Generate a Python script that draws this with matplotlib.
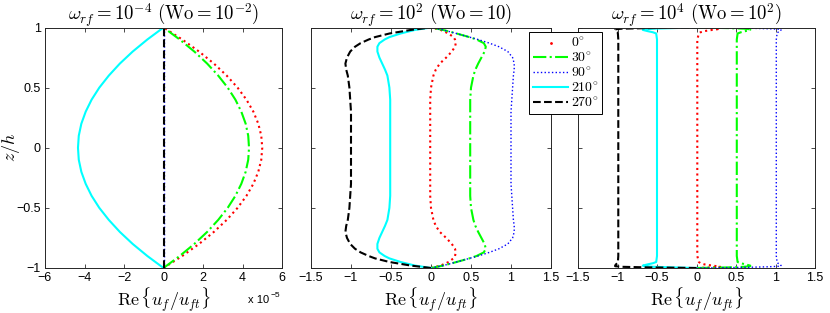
import numpy as np
import matplotlib
matplotlib.use('Agg')
import matplotlib.pyplot as plt
from matplotlib.lines import Line2D

plt.rcParams['mathtext.fontset'] = 'cm'
plt.rcParams['font.family'] = ['Liberation Sans', 'DejaVu Sans']

# phase angles of the curves
phases = ['0', '30', '90', '210', '270']

# --- omega_rf = 1e-4 (values in units of 1e-5), half profile z = 0 .. 1
z_lo = np.array([0.0, 0.1, 0.2, 0.3, 0.4, 0.5, 0.6, 0.7, 0.8, 0.9, 1.0])
u_lo_0 = np.array([5.0, 4.95, 4.8, 4.55, 4.2, 3.75, 3.2, 2.55, 1.8, 0.95, 0.0])
u_lo_30 = np.array([4.33, 4.29, 4.16, 3.94, 3.64, 3.25, 2.77, 2.21, 1.56, 0.82, 0.0])
u_lo_90 = np.array([0.0, 0.0, 0.0, 0.0, 0.0, 0.0, 0.0, 0.0, 0.0, 0.0, 0.0])
u_lo_210 = np.array([-4.33, -4.29, -4.16, -3.94, -3.64, -3.25, -2.77, -2.21, -1.56, -0.82, 0.0])
u_lo_270 = np.array([0.0, 0.0, 0.0, 0.0, 0.0, 0.0, 0.0, 0.0, 0.0, 0.0, 0.0])

# --- omega_rf = 1e2, half profile
z_mid = np.array([0.0, 0.1, 0.2, 0.3, 0.4, 0.5, 0.6, 0.65, 0.7, 0.75, 0.8,
                  0.84, 0.87, 0.9, 0.92, 0.95, 0.98, 1.0])
u_mid_0 = np.array([-0.01, -0.01, -0.01, -0.01, -0.01, 0.0, 0.03, 0.06, 0.11, 0.19, 0.26,
                    0.30, 0.31, 0.30, 0.28, 0.22, 0.12, 0.0])
u_mid_30 = np.array([0.49, 0.49, 0.49, 0.49, 0.49, 0.5, 0.53, 0.555, 0.59, 0.63, 0.67,
                     0.685, 0.66, 0.57, 0.48, 0.32, 0.15, 0.0])
u_mid_90 = np.array([1.0, 1.0, 1.0, 1.0, 1.01, 1.02, 1.03, 1.04, 1.04, 1.02, 0.96,
                     0.85, 0.73, 0.59, 0.48, 0.32, 0.15, 0.0])
u_mid_210 = np.array([-0.51, -0.51, -0.51, -0.51, -0.51, -0.52, -0.545, -0.575, -0.61, -0.645, -0.67,
                      -0.67, -0.645, -0.58, -0.52, -0.38, -0.2, 0.0])
u_mid_270 = np.array([-1.0, -1.0, -1.0, -1.0, -1.01, -1.02, -1.04, -1.06, -1.07, -1.05, -1.01,
                      -0.95, -0.88, -0.78, -0.7, -0.52, -0.25, 0.0])

# --- omega_rf = 1e4, half profile
z_hi = np.array([0.0, 0.5, 0.9, 0.95, 0.96, 0.97, 0.98, 0.985, 0.99, 0.995, 1.0])
u_hi_0 = np.array([0.01, 0.01, 0.01, 0.03, 0.05, 0.1, 0.2, 0.26, 0.3, 0.22, 0.0])
u_hi_30 = np.array([0.51, 0.51, 0.51, 0.52, 0.56, 0.62, 0.68, 0.68, 0.6, 0.4, 0.0])
u_hi_90 = np.array([1.01, 1.01, 1.01, 1.02, 1.03, 1.06, 1.07, 1.07, 0.9, 0.6, 0.0])
u_hi_210 = np.array([-0.5, -0.5, -0.5, -0.51, -0.55, -0.62, -0.68, -0.66, -0.55, -0.3, 0.0])
u_hi_270 = np.array([-0.99, -0.99, -0.99, -0.995, -1.0, -1.02, -1.03, -1.03, -0.95, -0.6, 0.0])

styles = [
    dict(color='#ff0000', ls=':', lw=1.5),
    dict(color='#00ff00', ls='-.', lw=1.5),
    dict(color='#0000ff', ls=':', lw=1.0),
    dict(color='#00ffff', ls='-', lw=1.5),
    dict(color='k', ls='--', lw=1.5),
]

fig = plt.figure(figsize=(8.3, 3.13), dpi=100)
W, H = 830.0, 313.0
bot, hgt = 45 / H, 240.5 / H
ax1 = fig.add_axes([45 / W, bot, 237 / W, hgt])
ax2 = fig.add_axes([311 / W, bot, 240 / W, hgt])
ax3 = fig.add_axes([578 / W, bot, 237 / W, hgt])

panels = [
    (ax1, z_lo, [u_lo_0, u_lo_30, u_lo_90, u_lo_210, u_lo_270]),
    (ax2, z_mid, [u_mid_0, u_mid_30, u_mid_90, u_mid_210, u_mid_270]),
    (ax3, z_hi, [u_hi_0, u_hi_30, u_hi_90, u_hi_210, u_hi_270]),
]

for ax, z, curves in panels:
    zz = np.concatenate([-z[::-1], z[1:]])
    for u, st in zip(curves, styles):
        uu = np.concatenate([u[::-1], u[1:]])
        ax.plot(uu, zz, **st)
    ax.set_ylim(-1, 1)
    ax.set_yticks([-1, -0.5, 0, 0.5, 1])
    ax.tick_params(direction='in', length=3, width=0.5, top=True, right=True,
                   labelsize=9, pad=3)
    for sp in ax.spines.values():
        sp.set_linewidth(0.7)
        sp.set_color('0.15')
    ax.set_xlabel(r'$\mathrm{Re}\,\{u_f/u_{ft}\}$', fontsize=13, labelpad=1)

ax1.set_xlim(-6, 6)
ax1.set_xticks([-6, -4, -2, 0, 2, 4, 6])
ax1.set_yticklabels(['\u22121', '\u22120.5', '0', '0.5', '1'])
ax1.set_ylabel(r'$z/h$', fontsize=13)
ax1.yaxis.set_label_coords(-0.095, 0.5)

for ax in (ax2, ax3):
    ax.set_xlim(-1.5, 1.5)
    ax.set_xticks([-1.5, -1, -0.5, 0, 0.5, 1, 1.5])
    ax.set_xticklabels(['\u22121.5', '\u22121', '\u22120.5', '0', '0.5', '1', '1.5'])
    ax.set_yticklabels([])

ax1.set_title(r'$\omega_{rf} = 10^{-4}\ (\mathrm{Wo} = 10^{-2})$', fontsize=13.5, pad=5)
ax2.set_title(r'$\omega_{rf} = 10^{2}\ (\mathrm{Wo} = 10)$', fontsize=13.5, pad=5)
ax3.set_title(r'$\omega_{rf} = 10^{4}\ (\mathrm{Wo} = 10^{2})$', fontsize=13.5, pad=5)

# exponent label of the first panel
fig.text(248 / W, 1 - 303 / H, 'x 10', fontsize=8, ha='left', va='baseline')
fig.text(271 / W, 1 - 297 / H, '\u22125', fontsize=6, ha='left', va='baseline')

handles = [Line2D([], [], color='#ff0000', ls='none', marker='.', ms=2)]
handles += [Line2D([], [], **st) for st in styles[1:]]
leg = fig.legend(handles, [r'$%s\!^\circ$' % p for p in phases],
                 loc='upper left', bbox_to_anchor=(529 / W, 1 - 32 / H),
                 fontsize=10, frameon=True, fancybox=False, framealpha=1,
                 edgecolor='k', borderaxespad=0, handlelength=2.5,
                 handletextpad=0.2, labelspacing=0.05, borderpad=0.3)
leg.get_frame().set_linewidth(0.7)

fig.savefig('out.png', dpi=100)
